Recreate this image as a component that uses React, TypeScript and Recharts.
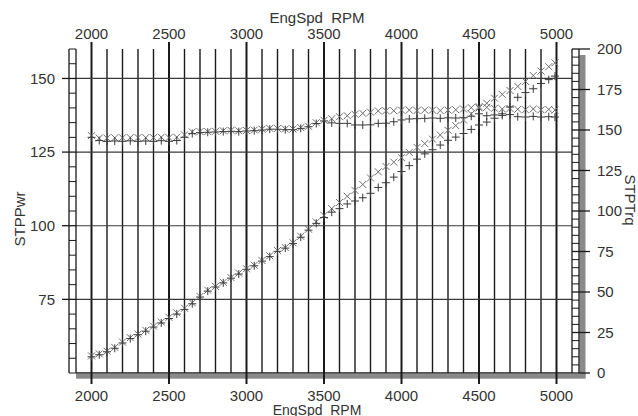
import { ScatterChart, Scatter, XAxis, YAxis, ReferenceLine } from "recharts"

// engine speed of every logged sample
const rpm = [
  2000, 2050, 2100, 2150, 2200, 2250, 2300, 2350, 2400, 2450,
  2500, 2550, 2600, 2650, 2700, 2750, 2800, 2850, 2900, 2950,
  3000, 3050, 3100, 3150, 3200, 3250, 3300, 3350, 3400, 3450,
  3500, 3550, 3600, 3650, 3700, 3750, 3800, 3850, 3900, 3950,
  4000, 4050, 4100, 4150, 4200, 4250, 4300, 4350, 4400, 4450,
  4500, 4550, 4600, 4650, 4700, 4750, 4800, 4850, 4900, 4950,
  4990,
]

// run 1 ("x" markers)
const pwrCross = [
  55.8, 56.5, 57.4, 58.7, 60.5, 62.0, 63.2, 64.5, 65.9, 67.3,
  68.9, 70.4, 72.0, 73.8, 76.0, 78.1, 79.4, 80.8, 82.4, 83.9,
  85.4, 86.6, 88.2, 89.8, 91.6, 92.6, 94.2, 96.4, 98.8, 101.3,
  103.5, 105.8, 107.9, 110.0, 112.0, 114.0, 116.2, 118.3, 120.1, 121.6,
  123.1, 124.9, 126.6, 127.9, 129.4, 130.8, 132.4, 134.0, 135.9, 138.0,
  140.0, 141.6, 143.3, 144.6, 145.9, 147.3, 149.0, 151.0, 152.5, 154.0,
  155.3,
]
const trqCross = [
  146.5, 145.0, 145.0, 145.2, 145.2, 145.3, 145.3, 145.3, 145.3, 145.6,
  145.3, 145.6, 147.0, 148.8, 149.0, 149.0, 149.2, 149.5, 149.8, 149.5,
  149.7, 150.0, 150.5, 151.0, 151.0, 150.6, 150.6, 151.5, 152.3, 154.5,
  156.0, 157.0, 158.2, 158.8, 159.7, 160.3, 161.0, 161.8, 161.9, 161.9,
  162.3, 162.3, 162.0, 162.3, 162.3, 162.0, 162.3, 162.5, 163.0, 163.8,
  164.4, 164.0, 163.4, 163.0, 163.3, 162.8, 162.5, 163.0, 162.5, 162.7,
  162.3,
]

// run 2 ("+" markers)
const pwrPlus = [
  55.5, 56.2, 57.2, 58.4, 60.2, 61.7, 63.0, 64.2, 65.6, 67.0,
  68.5, 70.0, 71.6, 73.5, 75.8, 77.8, 79.2, 80.6, 82.2, 83.6,
  85.2, 86.4, 88.0, 89.5, 91.3, 92.4, 94.0, 96.1, 98.5, 100.8,
  102.8, 104.6, 105.8, 107.4, 108.4, 109.5, 111.0, 113.0, 114.6, 116.5,
  118.4, 120.4, 122.6, 124.4, 125.8, 127.4, 129.0, 130.1, 131.3, 132.7,
  134.2, 135.2, 136.5, 138.0, 140.3, 143.6, 145.2, 146.5, 148.3, 149.6,
  150.8,
]
const trqPlus = [
  145.5, 143.5, 143.0, 143.2, 143.0, 143.3, 143.0, 143.2, 143.0, 143.4,
  143.0, 143.5, 145.5, 147.8, 148.5, 148.6, 148.8, 149.0, 149.2, 149.0,
  149.4, 149.6, 150.0, 150.5, 150.5, 150.2, 150.2, 151.0, 152.0, 154.0,
  155.6, 154.4, 154.1, 154.1, 153.1, 153.1, 153.2, 154.1, 154.2, 155.1,
  156.2, 156.8, 157.0, 157.2, 157.4, 157.2, 157.5, 157.4, 157.6, 158.5,
  160.0, 158.8, 159.3, 159.0, 159.5, 158.2, 158.0, 158.4, 158.0, 158.2,
  158.0,
]

const rpmTicks = [2000, 2500, 3000, 3500, 4000, 4500, 5000]
const pwrTicks = [75, 100, 125, 150]
const trqTicks = [0, 25, 50, 75, 100, 125, 150, 175, 200]

const range = (from: number, to: number, step: number) =>
  Array.from({ length: Math.round((to - from) / step) + 1 }, (_, i) => from + i * step)

const rpmGrid = range(2000, 5000, 100)
const pwrMinor = range(50, 160, 5)
const trqMinor = range(0, 200, 5)

const FONT = "'Liberation Sans', Arial, sans-serif"
const INK = "#333"
const LINE = "#1a1a1a"
const SHADOW = "#8a8a8a"

const pts = (vals: number[]) => rpm.map((r, i) => ({ rpm: r, val: vals[i] }))

function CrossMark({ cx, cy }: any) {
  const s = 3.5
  return (
    <path d={`M${cx - s},${cy - s}L${cx + s},${cy + s}M${cx - s},${cy + s}L${cx + s},${cy - s}`} stroke="#6e6e6e" strokeWidth={1} fill="none" />
  )
}

function PlusMark({ cx, cy }: any) {
  const s = 4
  return <path d={`M${cx - s},${cy}L${cx + s},${cy}M${cx},${cy - s}L${cx},${cy + s}`} stroke="#3a3a3a" strokeWidth={1} fill="none" />
}

function TopTick({ x, y, payload }: any) {
  return (
    <g>
      <line x1={x} x2={x} y1={y - 7} y2={y} stroke={LINE} strokeWidth={2} />
      <text x={x} y={y - 10} textAnchor="middle" fontFamily={FONT} fontSize={15} fill={INK}>
        {payload.value}
      </text>
    </g>
  )
}

function BottomTick({ x, y, payload }: any) {
  return (
    <g>
      <line x1={x} x2={x} y1={y} y2={y + 11} stroke={LINE} strokeWidth={2} />
      <text x={x} y={y + 28} textAnchor="middle" fontFamily={FONT} fontSize={15} fill={INK}>
        {payload.value}
      </text>
    </g>
  )
}

function LeftTick({ x, y, payload }: any) {
  const major = pwrTicks.includes(payload.value)
  return (
    <g>
      <line x1={major ? x - 14 : x - 7} x2={x} y1={y} y2={y} stroke={LINE} strokeWidth={major ? 1.3 : 1} />
      {major && (
        <text x={x - 21} y={y} dy="0.36em" textAnchor="end" fontFamily={FONT} fontSize={15} fill={INK}>
          {payload.value}
        </text>
      )}
    </g>
  )
}

function RightTick({ x, y, payload }: any) {
  const major = trqTicks.includes(payload.value)
  return (
    <g>
      <line x1={x} x2={major ? x + 18 : x + 7} y1={y} y2={y} stroke={LINE} strokeWidth={major ? 1.3 : 1} />
      {major && (
        <text x={x + 25} y={y} dy="0.36em" textAnchor="start" fontFamily={FONT} fontSize={15} fill={INK}>
          {payload.value}
        </text>
      )}
    </g>
  )
}

function LeftDecor({ viewBox }: any) {
  const { x, y, width, height } = viewBox
  const edge = x + width
  return (
    <g>
      <line x1={edge - 7} x2={edge - 7} y1={y} y2={y + height} stroke={LINE} strokeWidth={1.3} />
      <text
        transform={`translate(${x + 25},${y + height / 2 + 8}) rotate(-90)`}
        textAnchor="middle"
        fontFamily={FONT}
        fontSize={15}
        fill={INK}
      >
        STPPwr
      </text>
    </g>
  )
}

function RightDecor({ viewBox }: any) {
  const { x, y, height } = viewBox
  return (
    <g>
      <rect x={x + 7.5} y={y + 6} width={6} height={height - 1} fill={SHADOW} />
      <line x1={x + 7} x2={x + 7} y1={y} y2={y + height} stroke={LINE} strokeWidth={1.3} />
      <text
        transform={`translate(${x + 53},${y + height / 2 - 11}) rotate(90)`}
        textAnchor="middle"
        fontFamily={FONT}
        fontSize={15}
        fill={INK}
      >
        STPTrq
      </text>
    </g>
  )
}

function BottomDecor({ viewBox }: any) {
  const { x, y, width } = viewBox
  return (
    <g>
      <rect x={x} y={y + 0.7} width={width + 13.5} height={5} fill={SHADOW} />
      <text x={x + width / 2 - 7} y={y + 42} textAnchor="middle" fontFamily={FONT} fontSize={14} fill={INK} style={{ whiteSpace: "pre" }}>
        {"EngSpd  RPM"}
      </text>
    </g>
  )
}

function TopDecor({ viewBox }: any) {
  const { x, width } = viewBox
  return (
    <text x={x + width / 2 - 7} y={23} textAnchor="middle" fontFamily={FONT} fontSize={15} fill={INK} style={{ whiteSpace: "pre" }}>
      {"EngSpd  RPM"}
    </text>
  )
}

export default function App() {
  return (
    <div style={{ position: "absolute", left: 0, top: 0, width: 638, height: 416, background: "#fff" }}>
      <ScatterChart width={638} height={416} margin={{ top: 0, right: 0, bottom: 0, left: 0 }}>
        <XAxis
          xAxisId="bottom"
          dataKey="rpm"
          type="number"
          domain={[1900, 5100]}
          allowDataOverflow
          ticks={rpmTicks}
          interval={0}
          height={43}
          tickSize={0}
          tickMargin={0}
          tickLine={false}
          axisLine={{ stroke: LINE, strokeWidth: 1.3 }}
          tick={<BottomTick />}
          label={<BottomDecor />}
        />
        <XAxis
          xAxisId="top"
          orientation="top"
          dataKey="rpm"
          type="number"
          domain={[1900, 5100]}
          allowDataOverflow
          ticks={rpmTicks}
          interval={0}
          height={49}
          tickSize={0}
          tickMargin={0}
          tickLine={false}
          axisLine={false}
          tick={<TopTick />}
          label={<TopDecor />}
        />
        <YAxis
          yAxisId="pwr"
          dataKey="val"
          type="number"
          domain={[50, 160]}
          allowDataOverflow
          ticks={pwrMinor}
          interval={0}
          width={76}
          tickSize={0}
          tickMargin={0}
          tickLine={false}
          axisLine={{ stroke: LINE, strokeWidth: 1.3 }}
          tick={<LeftTick />}
          label={<LeftDecor />}
        />
        <YAxis
          yAxisId="trq"
          orientation="right"
          dataKey="val"
          type="number"
          domain={[0, 200]}
          allowDataOverflow
          ticks={trqMinor}
          interval={0}
          width={66}
          tickSize={0}
          tickMargin={0}
          tickLine={false}
          axisLine={{ stroke: LINE, strokeWidth: 1.3 }}
          tick={<RightTick />}
          label={<RightDecor />}
        />

        {rpmGrid.map((r) => (
          <ReferenceLine
            key={`v${r}`}
            xAxisId="bottom"
            yAxisId="pwr"
            x={r}
            stroke={LINE}
            strokeWidth={r % 500 === 0 ? 2 : 1.4}
          />
        ))}
        {pwrTicks.map((v) => (
          <ReferenceLine key={`h${v}`} xAxisId="bottom" yAxisId="pwr" y={v} stroke="#3a3a3a" strokeWidth={1.2} />
        ))}

        <Scatter xAxisId="bottom" yAxisId="trq" data={pts(trqCross)} shape={<CrossMark />} isAnimationActive={false} />
        <Scatter xAxisId="bottom" yAxisId="trq" data={pts(trqPlus)} shape={<PlusMark />} isAnimationActive={false} />
        <Scatter xAxisId="bottom" yAxisId="pwr" data={pts(pwrCross)} shape={<CrossMark />} isAnimationActive={false} />
        <Scatter xAxisId="bottom" yAxisId="pwr" data={pts(pwrPlus)} shape={<PlusMark />} isAnimationActive={false} />
      </ScatterChart>
    </div>
  )
}
